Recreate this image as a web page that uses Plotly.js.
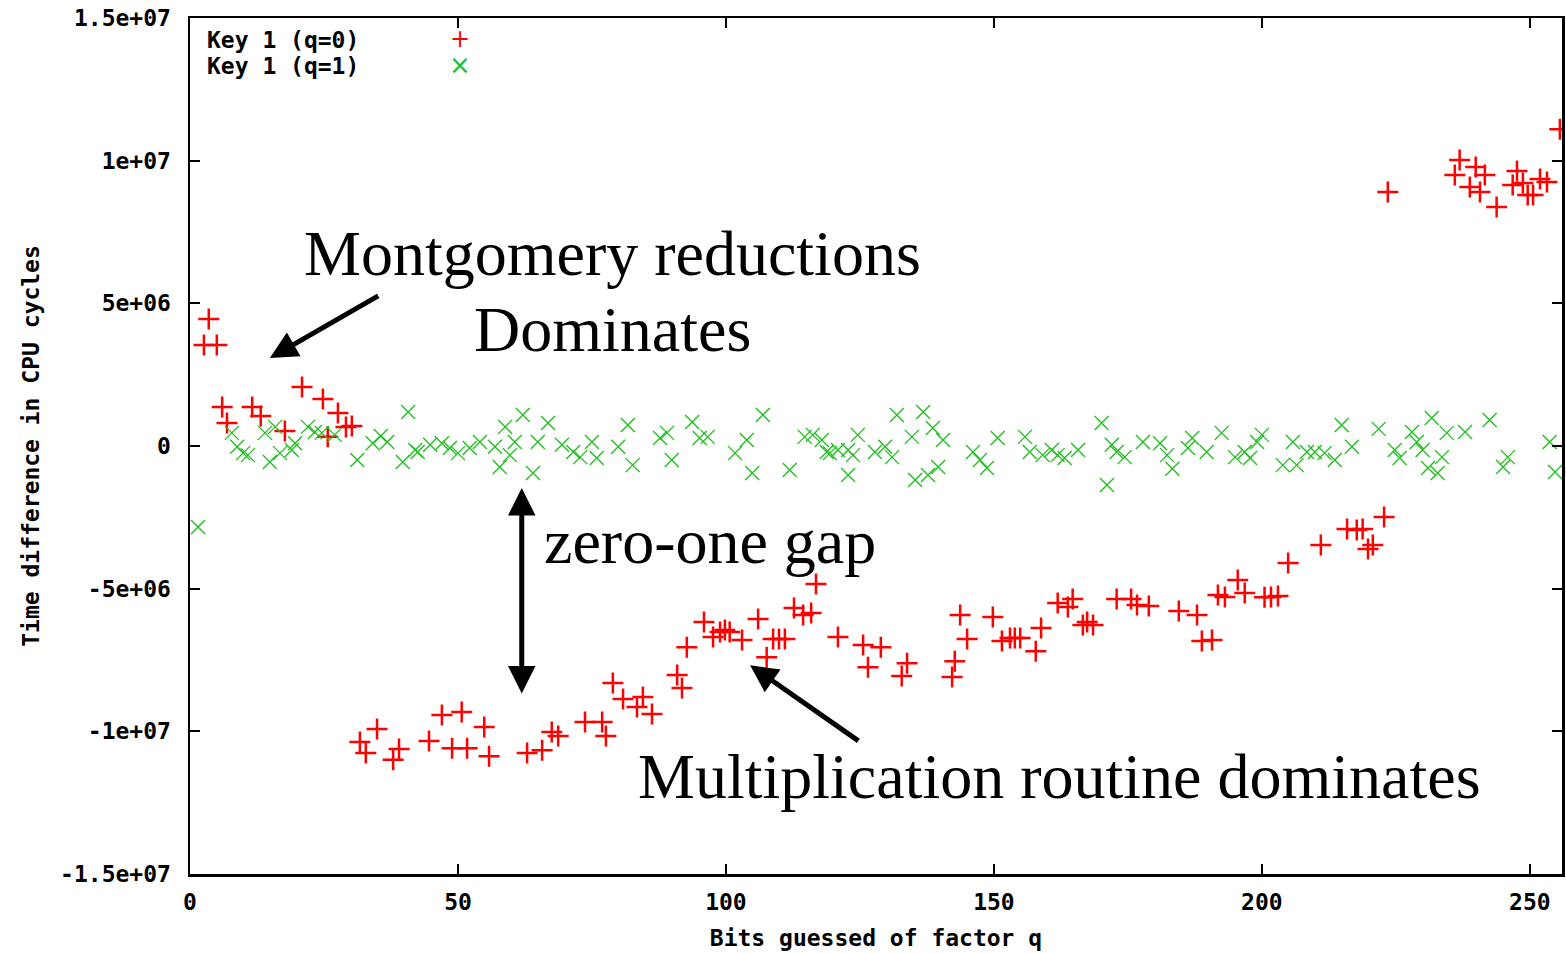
<!DOCTYPE html>
<html>
<head>
<meta charset="utf-8">
<script src="https://cdn.plot.ly/plotly-3.0.1.min.js"></script>
<style>html,body{margin:0;padding:0;background:#fff;}#chart{width:1566px;height:953px;}</style>
</head>
<body>
<div id="chart"></div>
<script>
// Key 1 (q=0) : red plus markers
const q0Bits = [2.6, 3.5, 5.0, 6.0, 6.9, 11.6, 13.2, 17.7, 20.9, 24.8, 25.7, 27.6, 29.1, 30.2,
  31.7, 32.8, 34.9, 37.9, 39.0, 44.6, 47.0, 48.9, 50.7, 51.7, 54.9, 55.8, 62.9, 65.7, 67.5, 68.7,
  73.7, 76.9, 77.6, 78.9, 80.8, 83.4, 84.5, 86.2, 90.9, 91.8, 92.7, 95.9, 97.6, 98.9, 99.8, 100.7,
  103.0, 106.0, 107.6, 108.8, 109.9, 111.0, 112.7, 114.4, 115.9, 116.8, 120.9, 125.6, 126.5, 128.9,
  132.8, 133.8, 142.2, 142.7, 143.7, 145.0, 149.8, 151.5, 153.0, 153.9, 154.9, 157.8, 158.8, 161.9,
  163.8, 164.7, 166.6, 167.4, 168.5, 172.9, 175.6, 176.7, 178.9, 184.5, 187.9, 188.8, 190.7, 191.8,
  193.1, 195.5, 196.8, 200.5, 201.7, 203.0, 204.9, 211.0, 215.9, 217.7, 218.8, 219.8, 220.7, 222.8,
  223.5, 236.0, 236.9, 238.8, 239.9, 240.7, 241.6, 243.8, 246.8, 247.6, 248.7, 249.6, 250.6, 251.9,
  253.2, 255.6];
const q0Diff = [3.54e6, 4.45e6, 3.54e6, 1.37e6, 0.81e6, 1.37e6, 1.05e6, 0.53e6, 2.07e6, 1.65e6, 0.32e6, 1.16e6, 0.67e6, 0.70e6,
  -10.37e6, -10.76e6, -9.92e6, -11.0e6, -10.62e6, -10.34e6, -9.43e6, -10.59e6, -9.32e6, -10.59e6, -9.85e6, -10.87e6, -10.76e6, -10.66e6, -10.02e6, -10.16e6,
  -9.67e6, -9.67e6, -10.16e6, -8.31e6, -8.87e6, -9.15e6, -8.8e6, -9.39e6, -8.03e6, -8.48e6, -7.05e6, -6.17e6, -6.69e6, -6.52e6, -6.45e6, -6.52e6,
  -6.8e6, -6.06e6, -7.4e6, -6.76e6, -6.76e6, -6.76e6, -5.68e6, -5.92e6, -5.85e6, -4.84e6, -6.69e6, -6.97e6, -7.75e6, -7.05e6,
  -8.06e6, -7.61e6, -8.1e6, -7.54e6, -5.92e6, -6.76e6, -5.99e6, -6.83e6, -6.73e6, -6.73e6, -6.73e6, -7.19e6, -6.38e6, -5.5e6,
  -5.64e6, -5.36e6, -6.27e6, -6.17e6, -6.27e6, -5.36e6, -5.36e6, -5.57e6, -5.61e6, -5.78e6, -5.92e6, -6.83e6, -6.8e6, -5.22e6,
  -5.29e6, -4.7e6, -5.15e6, -5.3e6, -5.29e6, -5.26e6, -4.1e6, -3.47e6, -2.91e6, -2.94e6, -2.91e6, -3.61e6, -3.47e6, -2.49e6,
  8.9e6, 9.5e6, 10.02e6, 9.08e6, 9.78e6, 8.9e6, 9.5e6, 8.38e6, 9.15e6, 9.64e6, 9.22e6, 8.8e6, 8.8e6, 9.36e6,
  9.25e6, 11.1e6];

// Key 1 (q=1) : green cross markers
const q1Bits = [1.5, 7.8, 8.8, 9.9, 10.8, 14.0, 14.9, 15.9, 16.8, 19.0, 19.6, 22.0, 23.3, 24.6, 27.0,
  31.2, 34.1, 35.6, 36.8, 39.7, 40.7, 42.0, 42.5, 44.8, 47.0, 48.5, 50.0, 52.2, 54.1, 56.9, 57.8,
  58.8, 59.7, 60.6, 62.1, 64.0, 64.9, 66.8, 69.4, 71.5, 72.8, 75.0, 75.9, 79.9, 81.7, 82.6, 87.7,
  89.0, 89.9, 93.7, 95.1, 96.6, 101.7, 103.9, 104.9, 106.9, 111.9, 114.7, 116.2, 117.9, 118.8, 119.4,
  120.9, 122.8, 122.8, 123.7, 124.6, 127.8, 129.7, 131.0, 131.9, 134.7, 135.3, 136.8, 137.7, 138.6,
  139.6, 140.5, 146.1, 147.4, 148.7, 150.7, 155.8, 156.7, 159.1, 160.8, 161.9, 163.2, 165.7, 170.1,
  171.1, 172.0, 172.9, 174.4, 177.8, 181.0, 182.3, 183.3, 186.2, 187.0, 189.7, 192.5, 195.0, 196.8,
  197.8, 199.1, 200.0, 203.9, 205.8, 206.5, 208.4, 209.9, 211.7, 213.6, 214.9, 216.8, 221.8, 224.8,
  225.7, 228.0, 228.9, 230.0, 231.0, 231.7, 232.8, 233.6, 234.5, 237.9, 242.5, 245.0, 245.9, 253.7, 254.7];
const q1Diff = [-2.84e6, 0.46e6, -0.03e6, -0.25e6, -0.32e6, 0.46e6, -0.56e6, 0.67e6, -0.25e6, -0.14e6, 0.1e6, 0.67e6, 0.49e6, 0.46e6, 0.39e6,
  -0.49e6, 0.1e6, 0.35e6, 0.14e6, -0.56e6, 1.19e6, -0.14e6, -0.21e6, 0.04e6, 0.1e6, -0.07e6, -0.25e6, -0.07e6, 0.14e6, -0.03e6, -0.74e6,
  0.67e6, -0.32e6, 0.14e6, 1.09e6, -0.95e6, 0.14e6, 0.81e6, 0.04e6, -0.21e6, -0.39e6, 0.14e6, -0.42e6, -0.03e6, 0.74e6, -0.67e6, 0.28e6,
  0.46e6, -0.49e6, 0.84e6, 0.28e6, 0.32e6, -0.25e6, 0.21e6, -0.95e6, 1.09e6, -0.84e6, 0.32e6, 0.39e6, 0.21e6, -0.21e6, -0.25e6,
  -0.14e6, -0.14e6, -1.02e6, -0.32e6, 0.39e6, -0.21e6, -0.03e6, -0.39e6, 1.09e6, 0.32e6, -1.19e6, 1.19e6, -1.02e6, 0.63e6,
  -0.74e6, 0.21e6, -0.21e6, -0.49e6, -0.77e6, 0.28e6, 0.32e6, -0.21e6, -0.32e6, -0.14e6, -0.32e6, -0.42e6, -0.14e6, 0.81e6,
  -1.37e6, 0.04e6, -0.21e6, -0.39e6, 0.14e6, 0.1e6, -0.32e6, -0.8e6, -0.07e6, 0.28e6, -0.21e6, 0.46e6, -0.39e6, -0.21e6,
  -0.42e6, 0.14e6, 0.39e6, -0.67e6, 0.14e6, -0.67e6, -0.21e6, -0.21e6, -0.25e6, -0.49e6, 0.74e6, -0.03e6, 0.6e6, -0.14e6,
  -0.42e6, 0.49e6, 0.14e6, -0.14e6, -0.77e6, 0.98e6, -0.95e6, -0.39e6, 0.46e6, 0.49e6, 0.91e6, -0.74e6, -0.39e6, 0.14e6, -0.91e6];

const xTickVals = [0, 50, 100, 150, 200, 250];
const xTickText = ['0', '50', '100', '150', '200', '250'];
const yTickVals = [1.5e7, 1e7, 5e6, 0, -5e6, -1e7, -1.5e7];
const yTickText = ['1.5e+07', '1e+07', '5e+06', '0', '-5e+06', '-1e+07', '-1.5e+07'];
const seriesNames = ['Key 1 (q=0)', 'Key 1 (q=1)'];

const monoFont = {family: 'DejaVu Sans Mono, monospace', size: 23, color: '#000', weight: 'bold'};
const serifFont = {family: 'Liberation Serif, Times New Roman, serif', size: 64, color: '#000'};

const traces = [
  {x: q0Bits, y: q0Diff, name: seriesNames[0], type: 'scatter', mode: 'markers',
   marker: {symbol: 'cross-thin-open', size: 15, color: '#ff0000', line: {color: '#ff0000', width: 2.5}}},
  {x: q1Bits, y: q1Diff, name: seriesNames[1], type: 'scatter', mode: 'markers',
   marker: {symbol: 'x-thin-open', size: 14, color: '#22c022', line: {color: '#22c022', width: 1.4}}}
];

const arrowCommon = {text: '', showarrow: true, xref: 'x', yref: 'y', axref: 'x', ayref: 'y',
  arrowcolor: '#000', arrowwidth: 5, arrowhead: 2, arrowsize: 1.1};

const layout = {
  width: 1566, height: 953,
  paper_bgcolor: '#fff', plot_bgcolor: '#fff',
  margin: {l: 190, r: 4, t: 18, b: 79},
  showlegend: false,
  xaxis: {range: [0, 256], tickvals: xTickVals, ticktext: xTickText, ticks: 'inside', ticklen: 10,
    tickwidth: 2, tickcolor: '#000', showline: true, linewidth: 2.5, linecolor: '#000', mirror: 'allticks',
    showgrid: false, zeroline: false, tickfont: monoFont, ticklabelstandoff: 6,
    title: {text: 'Bits guessed of factor q', font: monoFont, standoff: 16}},
  yaxis: {range: [-1.5e7, 1.5e7], tickvals: yTickVals, ticktext: yTickText, ticks: 'inside', ticklen: 10,
    tickwidth: 2, tickcolor: '#000', showline: true, linewidth: 2.5, linecolor: '#000', mirror: 'allticks',
    showgrid: false, zeroline: false, tickfont: monoFont, ticklabelstandoff: 12,
    title: {text: 'Time difference in CPU cycles', font: monoFont, standoff: 14}},
  annotations: [
    {text: seriesNames[0], xref: 'paper', yref: 'paper', x: 0.011, y: 0.974, xanchor: 'left', yanchor: 'middle', showarrow: false, font: monoFont},
    {text: seriesNames[1], xref: 'paper', yref: 'paper', x: 0.011, y: 0.944, xanchor: 'left', yanchor: 'middle', showarrow: false, font: monoFont},
    {text: '+', xref: 'paper', yref: 'paper', x: 0.197, y: 0.975, xanchor: 'center', yanchor: 'middle', showarrow: false,
     height: 20, font: {family: 'DejaVu Sans', size: 24, color: '#ff0000'}},
    {text: '×', xref: 'paper', yref: 'paper', x: 0.197, y: 0.945, xanchor: 'center', yanchor: 'middle', showarrow: false,
     height: 20, font: {family: 'DejaVu Sans', size: 26, color: '#22c022'}},
    {text: 'Montgomery reductions', xref: 'x', yref: 'y', x: 78.9, y: 6.75e6, showarrow: false, font: serifFont},
    {text: 'Dominates', xref: 'x', yref: 'y', x: 78.9, y: 4.1e6, showarrow: false, font: serifFont},
    {text: 'zero-one gap', xref: 'x', yref: 'y', x: 97, y: -3.35e6, showarrow: false, font: serifFont},
    {text: 'Multiplication routine dominates', xref: 'x', yref: 'y', x: 162.3, y: -11.6e6, showarrow: false, font: serifFont},
    Object.assign({}, arrowCommon, {x: 14.9, y: 3.08e6, ax: 35.4, ay: 5.29e6}),
    Object.assign({}, arrowCommon, {x: 61.9, y: -1.47e6, ax: 61.9, ay: -8.73e6, arrowside: 'end+start'}),
    Object.assign({}, arrowCommon, {x: 104.5, y: -7.68e6, ax: 125, ay: -10.37e6})
  ]
};

Plotly.newPlot('chart', traces, layout, {displayModeBar: false, staticPlot: true});
</script>
</body>
</html>
